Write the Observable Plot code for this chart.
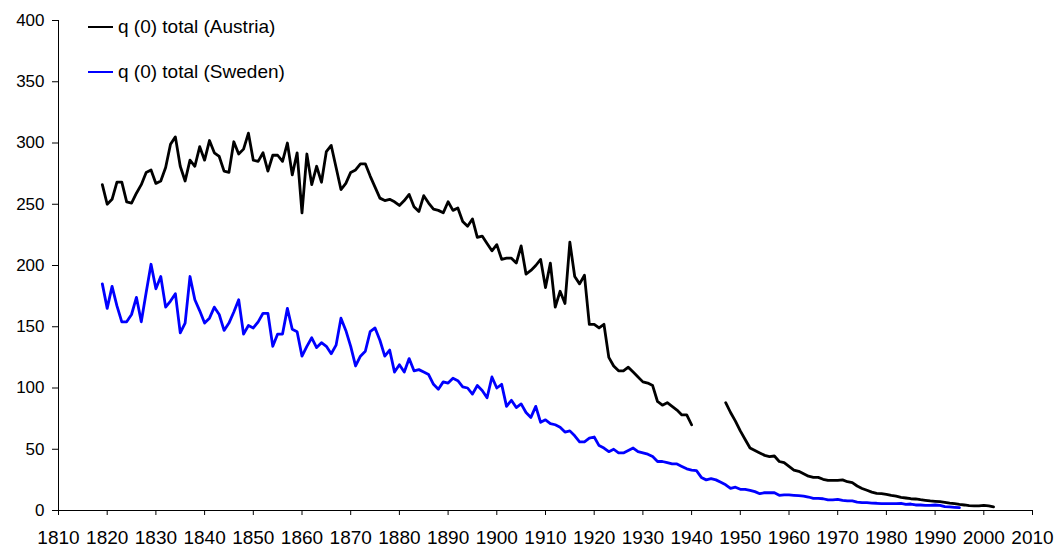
<!DOCTYPE html>
<html>
<head>
<meta charset="utf-8">
<script src="https://cdn.jsdelivr.net/npm/d3@7"></script>
<script src="https://cdn.jsdelivr.net/npm/@observablehq/plot@0.6"></script>
<style>
  html, body { margin: 0; padding: 0; background: #fff; }
  #wrap { position: relative; width: 1056px; height: 548px; font-family: "Liberation Sans", Arial, sans-serif; }
  .leg { position: absolute; left: 88px; height: 22px; display: flex; align-items: center; font-size: 19px; color: #000; white-space: nowrap; }
  .leg span.sw { display: inline-block; width: 25px; height: 2px; margin-right: 5px; }
  #chart svg .xlab, #chart svg .xlab text { font-size: 19px !important; }
  #chart svg .ylab, #chart svg .ylab text { font-size: 17px !important; }
</style>
</head>
<body>
<div id="wrap">
  <div id="chart"></div>
  <div class="leg" style="top:16px"><span class="sw" style="background:#000"></span>q (0) total (Austria)</div>
  <div class="leg" style="top:61px"><span class="sw" style="background:#0000ff"></span>q (0) total (Sweden)</div>
</div>
<script>
const xTicks = [1810,1820,1830,1840,1850,1860,1870,1880,1890,1900,1910,1920,1930,1940,1950,1960,1970,1980,1990,2000,2010];
const yTicks = [0,50,100,150,200,250,300,350,400];
const seriesNames = ["q (0) total (Austria)", "q (0) total (Sweden)"];

const austriaStartYear = 1819;
const austriaValues = [
  266,
  250, 254, 268, 268, 252, 251, 259, 266, 276, 278,
  267, 269, 280, 299, 305, 281, 269, 286, 281, 297,
  286, 302, 292, 289, 277, 276, 301, 291, 295, 308,
  286, 285, 292, 277, 290, 290, 285, 300, 274, 292,
  243, 291, 266, 281, 268, 293, 298, 280, 262, 267,
  276, 278, 283, 283, 273, 264, 255, 253, 254, 252,
  249, 253, 258, 248, 244, 257, 251, 246, 245, 243,
  252, 245, 247, 236, 232, 238, 223, 224, 218, 212,
  217, 205, 206, 206, 202, 216, 193, 196, 200, 205,
  182, 202, 166, 179, 169, 219, 191, 185, 192, 152,
  152, 149, 152, 125, 118, 114, 114, 117, 113, 109,
  105, 104, 102, 89, 86, 88, 85, 82, 78, 78,
  70, null, null, null, null, null, null, 88, 80, 73,
  65, 58, 51, 49, 47, 45, 44, 44.5, 40, 39,
  36, 33, 32, 30, 28, 27, 27, 25.5, 24.6, 24.6,
  24.6, 25, 23.5, 22.7, 20, 18, 16.5, 15, 14, 13.7,
  13.2, 12.4, 11.8, 10.8, 10.2, 9.6, 9.4, 8.8, 8.3, 7.8,
  7.5, 7.2, 6.7, 6.1, 5.6, 5, 4.5, 3.9, 3.7, 3.7,
  4.2, 3.7, 2.9
];

const swedenStartYear = 1819;
const swedenValues = [
  185,
  165, 183, 167, 154, 154, 160, 174, 154, 178, 201,
  181, 191, 166, 171, 177, 145, 153, 191, 172, 163,
  153, 157, 166, 160, 147, 153, 162, 172, 144, 151,
  149, 154, 161, 161, 134, 144, 144, 165, 148, 146,
  126, 134, 141, 133, 137, 134, 128, 135, 157, 147,
  134, 118, 126, 130, 146, 149, 139, 126, 131, 113,
  119, 113, 124, 114, 115, 113, 111, 103, 99, 105,
  104, 108, 106, 101, 100, 95, 102, 98, 92, 109,
  100, 103, 85, 90, 84, 87, 80, 76, 85, 72,
  74, 71, 70, 68, 64, 65, 61, 56, 56, 59,
  60, 53, 51, 48, 50, 47, 47, 49, 51, 48,
  47, 46, 44, 40, 40, 39, 38, 38, 36, 34,
  33, 32.5, 27, 25, 26, 25, 23, 21, 18, 19,
  17.3, 17.3, 16.5, 15.4, 13.7, 14.5, 14.5, 14.5, 12.4, 12.7,
  12.7, 12.4, 12.1, 11.8, 11, 9.9, 9.9, 9.6, 8.6, 8.6,
  9.1, 8.3, 7.8, 7.8, 6.9, 6.4, 6.4, 6.1, 5.9, 5.6,
  5.6, 5.6, 5.6, 5.9, 5, 5.3, 4.5, 4.5, 4.2, 4.2,
  4.5, 4.2, 3.1, 2.9, 2.6, 2.3
];

const austria = austriaValues.map((v, i) => ({year: austriaStartYear + i, value: v, series: seriesNames[0]}));
const sweden = swedenValues.map((v, i) => ({year: swedenStartYear + i, value: v, series: seriesNames[1]}));

const xDomain = [xTicks[0], xTicks[xTicks.length - 1]];
const yDomain = [yTicks[0], yTicks[yTicks.length - 1]];

const chart = Plot.plot({
  width: 1056,
  height: 548,
  marginLeft: 58,
  marginRight: 24,
  marginTop: 20,
  marginBottom: 38,
  style: {fontFamily: '"Liberation Sans", Arial, sans-serif', fontSize: "17px", color: "#000", background: "#fff", overflow: "visible"},
  x: {domain: xDomain, ticks: xTicks, label: null},
  y: {domain: yDomain, ticks: yTicks, label: null},
  marks: [
    Plot.axisX({ticks: xTicks, tickFormat: d => String(d), tickSize: 5, tickPadding: 15, label: null, stroke: "#000", className: "xlab"}),
    Plot.axisY({ticks: yTicks, tickFormat: d => String(d), tickSize: 6, tickPadding: 8, label: null, stroke: "#000", className: "ylab"}),
    Plot.ruleX([xDomain[0]], {stroke: "#000", strokeWidth: 1}),
    Plot.ruleY([yDomain[0]], {stroke: "#000", strokeWidth: 1}),
    Plot.line(sweden, {x: "year", y: "value", stroke: "#0000ff", strokeWidth: 2.8}),
    Plot.line(austria, {x: "year", y: "value", stroke: "#000", strokeWidth: 2.8})
  ]
});
document.getElementById("chart").appendChild(chart);
// ensure tick label sizes are applied
const xg = chart.querySelector('g[aria-label="x-axis tick label"]');
if (xg) { xg.setAttribute("font-size", "19"); xg.querySelectorAll("text").forEach(t => t.style.fontSize = "19px"); }
const yg = chart.querySelector('g[aria-label="y-axis tick label"]');
if (yg) { yg.setAttribute("font-size", "17"); yg.querySelectorAll("text").forEach(t => t.style.fontSize = "17px"); }
</script>
</body>
</html>
